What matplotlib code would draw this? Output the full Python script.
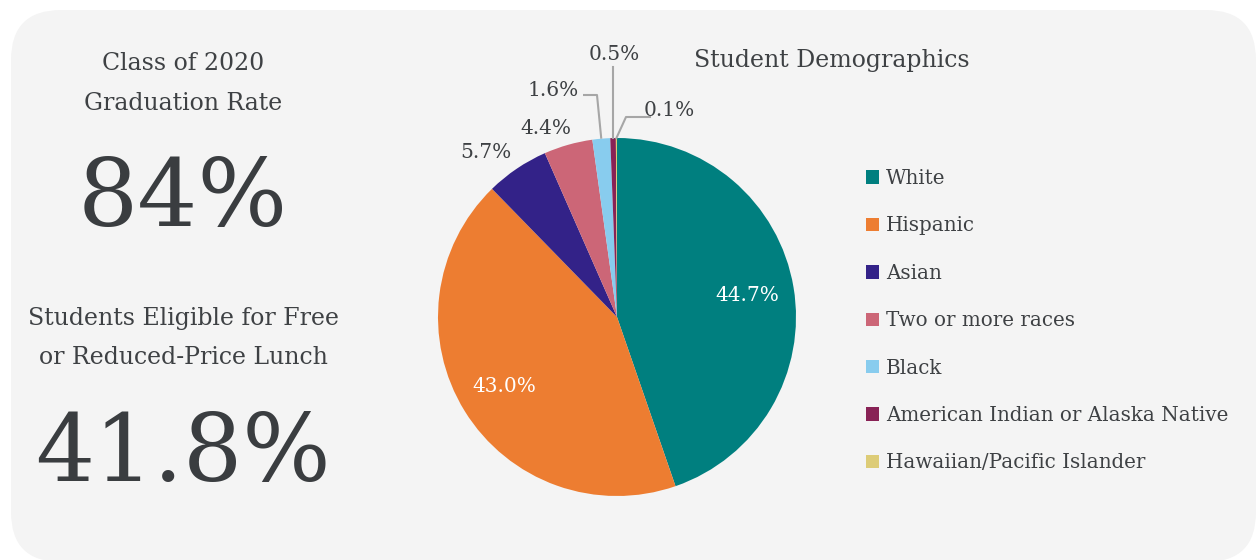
import matplotlib
matplotlib.use("Agg")
import matplotlib.pyplot as plt
from matplotlib.patches import FancyBboxPatch
import numpy as np

# ---- data ----
categories = ["White", "Hispanic", "Asian", "Two or more races", "Black",
              "American Indian or Alaska Native", "Hawaiian/Pacific Islander"]
shares = [44.7, 43.0, 5.7, 4.4, 1.6, 0.5, 0.1]
colors = ["#007f7f", "#ed7d31", "#332288", "#cc6677", "#88ccee", "#882255", "#ddcc77"]
grad_label = ["Class of 2020", "Graduation Rate"]
grad_value = "84%"
lunch_label = ["Students Eligible for Free", "or Reduced-Price Lunch"]
lunch_value = "41.8%"
chart_title = "Student Demographics"

W, H = 1257, 560
TXT = "#3e4144"
BIG = "#3a3d40"
LEAD = "#a6a6a6"
plt.rcParams['font.family'] = ['DejaVu Serif']

fig = plt.figure(figsize=(W / 100, H / 100), dpi=100)
fig.patch.set_facecolor("white")
ax = fig.add_axes([0, 0, 1, 1])

def Y(y):
    return H - y

# panel
panel = FancyBboxPatch((11, Y(562)), 1245, 552,
                       boxstyle="round,pad=0,rounding_size=50",
                       fc="#f4f4f4", ec="none", zorder=0)
ax.add_patch(panel)

# pie
cx, cy, r = 617, Y(317), 179
wedges, _, autotexts = ax.pie(shares, colors=colors, startangle=90, counterclock=False,
                              center=(cx, cy), radius=r,
                              autopct=lambda p: f"{p:.1f}%" if p > 10 else "",
                              pctdistance=0.74,
                              wedgeprops=dict(linewidth=0),
                              textprops=dict(color="white", fontsize=14.5))
for w in wedges:
    w.set_zorder(2)
for t in autotexts:
    t.set_zorder(3)

ax.set_xlim(0, W)
ax.set_ylim(0, H)
ax.set_aspect("auto")
ax.axis("off")

# outside labels
def edge_pt(i, frac=0.5):
    w = wedges[i]
    ang = np.deg2rad(w.theta1 + (w.theta2 - w.theta1) * frac)
    return cx + r * np.cos(ang), cy + r * np.sin(ang)

lab_kw = dict(fontsize=14.5, color=TXT, ha="center", va="center", zorder=4)
# Asian, Two or more: no leader
ax.text(486, Y(152), f"{shares[2]:.1f}%", **lab_kw)
ax.text(546, Y(128), f"{shares[3]:.1f}%", **lab_kw)
# Black with leader
ex, ey = edge_pt(4)
ax.plot([583, 597, ex], [Y(95), Y(95), ey], color=LEAD, lw=1.5, zorder=3, solid_capstyle="butt")
ax.text(553, Y(90), f"{shares[4]:.1f}%", **lab_kw)
# American Indian with leader
ex, ey = edge_pt(5)
ax.plot([ex, ex], [Y(67), ey], color=LEAD, lw=1.5, zorder=3)
ax.text(614, Y(54), f"{shares[5]:.1f}%", **lab_kw)
# Hawaiian with leader
ex, ey = edge_pt(6)
ax.plot([650, 626, ex], [Y(117), Y(117), ey], color=LEAD, lw=1.5, zorder=3)
ax.text(669, Y(111), f"{shares[6]:.1f}%", **lab_kw)

# title
ax.text(832, Y(60), chart_title, fontsize=17, color=TXT, ha="center", va="center", zorder=4)

# left side KPI text
ax.text(183, Y(64), grad_label[0], fontsize=17, color=TXT, ha="center", va="center")
ax.text(183, Y(103), grad_label[1], fontsize=17, color=TXT, ha="center", va="center")
ax.text(183, Y(226), grad_value, fontsize=68, color=BIG, ha="center", va="baseline")
ax.text(183, Y(319), lunch_label[0], fontsize=17, color=TXT, ha="center", va="center")
ax.text(183, Y(358), lunch_label[1], fontsize=17, color=TXT, ha="center", va="center")
ax.text(183, Y(481), lunch_value, fontsize=67, color=BIG, ha="center", va="baseline")

# legend
leg = ax.legend(wedges, categories, loc="upper left",
                bbox_to_anchor=(866 / W, 1 - 169 / H), bbox_transform=fig.transFigure,
                frameon=False, fontsize=14.3, labelcolor=TXT,
                handlelength=0.66, handleheight=0.66, handletextpad=0.35,
                labelspacing=1.43, borderpad=0, borderaxespad=0)

fig.savefig("out.png", dpi=100, facecolor="white")
